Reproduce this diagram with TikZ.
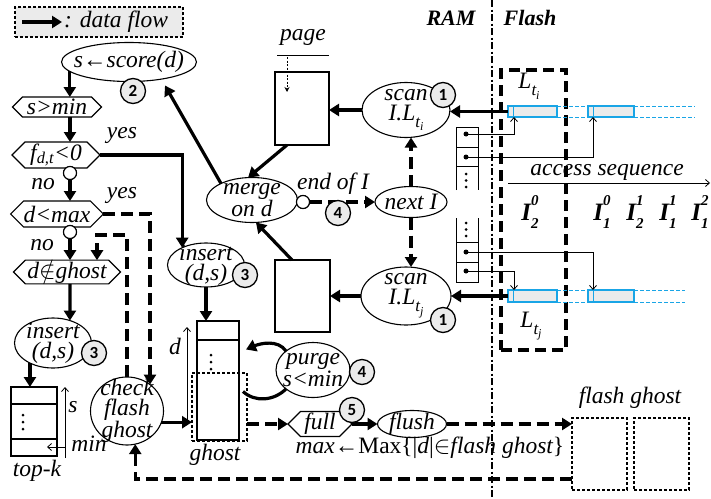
\documentclass[tikz,border=0pt]{standalone}
\usepackage{fontspec}
\setmainfont{Liberation Serif}[ItalicFont={Liberation Serif Italic},BoldFont={Liberation Serif Bold},BoldItalicFont={Liberation Serif Bold Italic}]
\newfontfamily\numfont{Carlito}
\usetikzlibrary{shapes.geometric,shapes.symbols,arrows.meta,calc}
\definecolor{fblue}{RGB}{25,165,230}
\definecolor{lgray}{gray}{0.92}
\newcommand\Lsub[1]{L\raisebox{-0.3em}{\fontsize{17}{17}\selectfont t\raisebox{-0.22em}{\fontsize{12}{12}\selectfont #1}}}
\newcommand\Iss[2]{I\rlap{\raisebox{0.6em}{\fontsize{15}{15}\selectfont #1}}\raisebox{-0.3em}{\fontsize{15}{15}\selectfont #2}}
\begin{document}
\begin{tikzpicture}[x=1pt,y=-1pt,
 every node/.style={font=\fontsize{23.5}{20}\selectfont\itshape},
 flow/.style={line width=3.2pt,-{Triangle[length=10pt,width=12pt]}},
 fline/.style={line width=3.2pt},
 dflow/.style={flow,dash pattern=on 12pt off 6pt},
 ptr/.style={line width=0.8pt,-{Straight Barb[length=4pt,width=7pt]}},
 ell/.style={ellipse,draw,line width=1.1pt,inner sep=-8pt,outer sep=0pt,align=center},
 hexa/.style={signal,signal to=west and east,draw,line width=1.1pt,inner sep=0pt,outer sep=0pt},
 num/.style={circle,draw,line width=1.3pt,fill=lgray,minimum size=25pt,inner sep=0pt,font=\numfont\bfseries\fontsize{17}{17}\selectfont},
 smc/.style={circle,draw,line width=1.1pt,fill=white,minimum size=13pt,inner sep=0pt},
 box/.style={rectangle,draw,line width=1.1pt,inner sep=0pt,outer sep=0pt},
 dbox/.style={box,dash pattern=on 3pt off 2pt},
 pdot/.style={circle,fill,inner sep=0pt,minimum size=5pt},
 vdot/.style={circle,fill,inner sep=0pt,minimum size=3pt},
 strip/.style={rectangle,draw=fblue,fill=lgray,line width=1.1pt,inner sep=0pt,outer sep=0pt},
 lab/.style={inner sep=0pt},
 boldlab/.style={inner sep=0pt,font=\fontsize{22}{22}\selectfont\bfseries\itshape},
 ilab/.style={inner sep=0pt,font=\fontsize{25}{25}\selectfont\bfseries\itshape},
 bluedash/.style={draw=fblue,line width=0.9pt,dash pattern=on 4pt off 2pt}
]
\useasboundingbox (0,0) rectangle (711,498);

% RAM / Flash divider
\coordinate (vt) at (492,0);
\coordinate (vb) at (492,498);
\draw[line width=1.8pt,dash pattern=on 7pt off 2.5pt on 2pt off 2.5pt] (vt) -- (vb);
\node[boldlab] at (451,18) {RAM};
\node[boldlab] at (530,18) {Flash};

% legend
\node[dbox,fill=lgray,minimum width=168pt,minimum height=30pt] (leg) at (99,22) {};
\coordinate (la) at (22,22);
\coordinate (lb) at (62,22);
\draw[flow] (la) -- (lb);
\node[lab,anchor=west] at (64,22) {: data flow};

% flash box and lists
\node[draw,line width=3.5pt,dash pattern=on 11pt off 6pt,minimum width=65pt,minimum height=280pt,inner sep=0pt] (fbox) at (533.5,210) {};
\node[strip,minimum width=49pt,minimum height=11pt] (s1a) at (532.5,111.5) {};
\node[strip,minimum width=46pt,minimum height=11pt] (s1b) at (611,111.5) {};
\node[strip,minimum width=49pt,minimum height=12pt] (s2a) at (532.5,296) {};
\node[strip,minimum width=46pt,minimum height=12pt] (s2b) at (611,296) {};
\draw[fblue,line width=1pt] ($(s1a.north west)+(5,0)$) -- ($(s1a.south west)+(5,0)$);
\draw[fblue,line width=1pt] ($(s1b.north west)+(5,0)$) -- ($(s1b.south west)+(5,0)$);
\draw[fblue,line width=1pt] ($(s2a.north west)+(5,0)$) -- ($(s2a.south west)+(5,0)$);
\draw[fblue,line width=1pt] ($(s2b.north west)+(5,0)$) -- ($(s2b.south west)+(5,0)$);
\draw[bluedash] (s1a.north east) -- (s1b.north west) (s1a.south east) -- (s1b.south west)
  (s1b.north east) -- ++(61,0) (s1b.south east) -- ++(61,0);
\draw[bluedash] (s2a.north east) -- (s2b.north west) (s2a.south east) -- (s2b.south west)
  (s2b.north east) -- ++(51,0) (s2b.south east) -- ++(51,0);
\node[lab] at (529,86) {\Lsub{i}};
\node[lab] at (531,326) {\Lsub{j}};

% access sequence
\coordinate (as1) at (508,183);
\coordinate (as2) at (710,183);
\draw[ptr] (as1) -- (as2);
\node[lab] at (607,172) {access sequence};
\node[ilab] at (530,212) {\Iss{0}{2}};
\node[ilab] at (602,212) {\Iss{0}{1}};
\node[ilab] at (635,212) {\Iss{1}{2}};
\node[ilab] at (668,212) {\Iss{1}{1}};
\node[ilab] at (700,212) {\Iss{2}{1}};

% pointer arrays
\draw[line width=1pt] (456,190) -- (456,127) -- (478,127) -- (478,190);
\draw[line width=1pt] (456,147) -- (478,147) (456,166) -- (478,166);
\draw[line width=1pt] (456,218) -- (456,282) -- (478,282) -- (478,218);
\draw[line width=1pt] (456,242) -- (478,242) (456,262) -- (478,262);
\foreach \yy in {174,180.5,187,223,229.5,236} \node[vdot] at (466,\yy) {};
\node[pdot] (p1) at (466,134) {};
\node[pdot] (p2) at (466,157) {};
\node[pdot] (p3) at (466,252) {};
\node[pdot] (p4) at (466,271) {};
\draw[ptr] (p1.center) -| ($(s1a.south west)+(6,0)$);
\draw[ptr] (p2.center) -| ($(s1b.south west)+(5,0)$);
\draw[ptr] (p3.center) -| ($(s2b.north west)+(5,0)$);
\draw[ptr] (p4.center) -| ($(s2a.north west)+(6,0)$);

% left column
\node[ell,minimum width=135pt,minimum height=39pt] (score) at (129,62) {s{\upshape ←}score(d)};
\node[hexa,minimum width=89pt,minimum height=20pt] (smin) at (57,107) {s>min};
\node[hexa,minimum width=88pt,minimum height=26pt] (f) at (56,155) {f\textsubscript{d,t}<0};
\node[smc] (c1) at (70,173) {};
\node[hexa,minimum width=90pt,minimum height=26pt] (dmax) at (57,214) {d<max};
\node[smc] (c2) at (70,232) {};
\node[hexa,minimum width=107pt,minimum height=22pt] (dghost) at (67,272) {d${\notin}$ghost};
\node[ell,minimum width=77pt,minimum height=50pt] (ins1) at (53,343) {insert\\(d,s)};
\node[box,minimum width=46pt,minimum height=69pt] (topk) at (34,421.5) {};
\draw[line width=1.1pt] (11,404) -- (57,404) (11,439) -- (57,439);
\foreach \yy in {415,422,429} \node[vdot] at (23,\yy) {};
\coordinate (sa) at (65,458);
\coordinate (sb) at (65,387);
\draw[ptr] (sa) -- (sb);
\coordinate (ma) at (65,447);
\coordinate (mb) at (47,447);
\draw[ptr] (ma) -- (mb);
\node[lab] at (73,407) {s};
\node[lab] at (89,444) {min};
\node[lab] at (37,471) {top-k};
\node[lab] at (122,135) {yes};
\node[lab] at (122,195) {yes};
\node[lab] at (43,184) {no};
\node[lab] at (42,245) {no};

\node[ell,minimum width=73pt,minimum height=68pt] (cfg) at (127,411) {check\\flash\\ghost};

% ghost
\node[box,minimum width=42pt,minimum height=119pt] (ghostr) at (218,380.5) {};
\draw[line width=1.1pt] (197,340) -- (239,340);
\foreach \yy in {355,362,369} \node[vdot] at (211,\yy) {};
\node[dbox,minimum width=55pt,minimum height=68pt] (ghostd) at (219.5,407) {};
\coordinate (da) at (187,423);
\coordinate (db) at (187,327);
\draw[ptr] (da) -- (db);
\node[lab] at (175,346) {d};
\node[lab] at (215,455) {ghost};
\node[ell,minimum width=77pt,minimum height=44pt] (ins2) at (206,265) {insert\\(d,s)};

% middle
\node[ell,minimum width=91pt,minimum height=45pt] (merge) at (252,200) {merge\\on d};
\node[smc] (mc) at (303,202) {};
\node[lab] at (333,184) {end of I};
\node[ell,minimum width=72pt,minimum height=31pt] (nextI) at (411,202) {next I};
\node[ell,minimum width=88pt,minimum height=55pt] (scan1) at (406,110) {scan\\I.\Lsub{i}};
\node[ell,minimum width=90pt,minimum height=58pt] (scan2) at (406,296) {scan\\I.\Lsub{j}};
\node[box,minimum width=54pt,minimum height=73pt] (page1) at (302,108.5) {};
\node[box,minimum width=55pt,minimum height=72pt] (page2) at (302.5,296) {};
\node[lab] at (303,37) {page};
\coordinate (pga) at (277,55);
\coordinate (pgb) at (329,55);
\draw[line width=1pt] (pga) -- (pgb);
\coordinate (pda) at (287,57);
\coordinate (pdb) at (287,92);
\draw[line width=0.8pt,dash pattern=on 2pt off 1.5pt,-{Stealth[length=5pt,width=5pt]}] (pda) -- (pdb);
\node[ell,minimum width=74pt,minimum height=55pt] (purge) at (313,370) {purge\\s<min};

% bottom
\node[hexa,minimum width=64pt,minimum height=25pt] (full) at (320,424) {full};
\node[ell,minimum width=69pt,minimum height=27pt] (flush) at (412,424) {flush};
\node[dbox,minimum width=55pt,minimum height=72pt] (fg1) at (599.5,454) {};
\node[dbox,minimum width=55pt,minimum height=72pt] (fg2) at (661.5,454) {};
\node[lab] at (630,398) {flash ghost};
\node[lab] at (430,448) {max\upshape ←Max\{|\itshape d\upshape |${\in}$\itshape flash ghost\upshape\}};

% connectors
\draw[flow] (score.189) -- (score.189 |- smin.north);
\draw[flow] (smin.south -| c1) -- (f.north -| c1);
\draw[flow] (c1.south) -- (c1 |- dmax.north);
\draw[flow] (c2.south) -- (c2 |- dghost.north);
\draw[flow] (dghost.south -| c2) -- (ins1.53);
\draw[flow] (ins1.221) -- (ins1.221 |- topk.north);
\draw[flow] (f.east) -| (ins2.144);
\draw[flow] (ins2.south) -- (ins2.south |- ghostr.north);
\draw[dflow] (dmax.east) -| (cfg.49);
\draw[dflow] (cfg.north) -- ++(0,-142) -| ($(dghost.north)+(30,0)$);
\draw[flow] (cfg.-18) -- (cfg.-18 -| ghostd.west);
\draw[dflow] ($(fg1.south west)+(0,-11)$) -| (cfg.-76);
\draw[dflow] (full.west -| ghostd.east) -- (full.west);
\draw[flow] (full.east) -- (flush.west);
\draw[dflow] (flush.east) -- (flush.east -| fg1.west);
\draw[flow] (merge.152) -- ($(score.south)+(36,4)$);
\draw[flow] ($(page1.south west)+(12,0)$) -- (merge.100);
\draw[flow] ($(page2.north west)+(17,0)$) -- (merge.-80);
\draw[flow] (scan1.west) -- (scan1.west -| page1.east);
\draw[flow] (scan2.west) -- (scan2.west -| page2.east);
\draw[dflow] (mc.east) -- (nextI.west);
\draw[dflow] (nextI.north) -- (nextI.north |- scan1.south);
\draw[dflow] (nextI.south) -- (nextI.south |- scan2.north);
\draw[flow] (s1a.west) -- (s1a.west -| scan1.east);
\draw[flow] (s2a.west) -- (s2a.west -| scan2.east);
\draw[fline] ($(ghostr.east)+(4,11)$) .. controls +(12,11) and +(-12,12) .. (purge.215);
\draw[flow] (purge.145) .. controls +(-8,-12) and +(14,-6) .. ($(ghostr.east)+(7,-31)$);

% small circles and numbers on top
\node[smc] at (c1) {};
\node[smc] at (c2) {};
\node[smc] at (mc) {};
\node[num] (n2) at (133,91) {2};
\node[num] (n3a) at (94,353) {3};
\node[num] (n3b) at (245,275) {3};
\node[num] (n4a) at (338,213) {4};
\node[num] (n1a) at (443,95) {1};
\node[num] (n1b) at (443,320) {1};
\node[num] (n4b) at (362,372) {4};
\node[num] (n5) at (352,410) {5};
\end{tikzpicture}
\end{document}
